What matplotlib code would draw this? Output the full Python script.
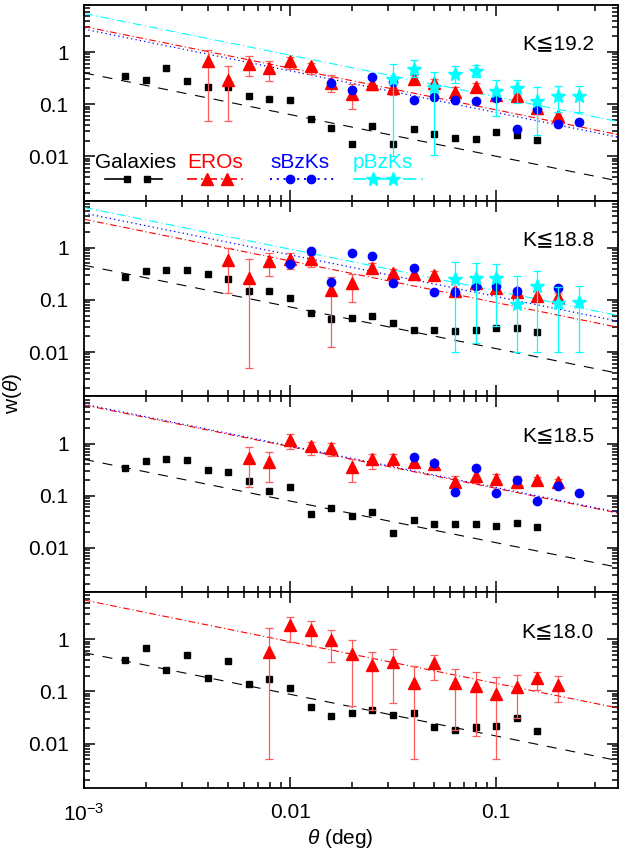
import numpy as np
import matplotlib
matplotlib.use('Agg')
import matplotlib.pyplot as plt
from matplotlib.ticker import FixedLocator, FixedFormatter, LogLocator, NullFormatter

plt.rcParams['font.family'] = ['Liberation Sans', 'DejaVu Sans']
plt.rcParams['mathtext.fontset'] = 'custom'
plt.rcParams['mathtext.rm'] = 'Liberation Sans'
plt.rcParams['mathtext.it'] = 'Liberation Sans:italic'

# ---------------- data ----------------
panel_labels = ['K≦19.2', 'K≦18.8', 'K≦18.5', 'K≦18.0']

theta_bins = [0.00158, 0.002, 0.00251, 0.00316, 0.00398, 0.00501, 0.00631, 0.00794,
              0.01, 0.0126, 0.0158, 0.02, 0.0251, 0.0316, 0.0398, 0.0501, 0.0631,
              0.0794, 0.1, 0.126, 0.158, 0.2, 0.251]

# Galaxies (theta_bins[0:21])
gal_192 = [0.353, 0.296, 0.49, 0.283, 0.21, 0.21, 0.145, 0.127, 0.118, 0.051, 0.0353,
           0.0173, 0.0386, 0.0173, 0.0338, 0.0263, 0.0223, 0.0213, 0.0296, 0.0255, 0.0204]
gal_188 = [0.275, 0.359, 0.37, 0.37, 0.309, 0.248, 0.149, 0.149, 0.111, 0.0552, 0.0429,
           0.0442, 0.0483, 0.0359, 0.027, 0.0259, 0.0248, 0.027, 0.0283, 0.0283, 0.024]
gal_185 = [0.338, 0.469, 0.505, 0.49, 0.309, 0.283, 0.189, 0.121, 0.145, 0.0442, 0.0569,
           0.041, 0.049, 0.0189, 0.0343, 0.0287, 0.0287, 0.0287, 0.0267, 0.03, 0.0251]
gal_180 = [0.408, 0.672, 0.262, 0.508, 0.181, 0.379, 0.137, 0.176, 0.115, 0.0512, 0.0334,
           0.0381, 0.0436, 0.0355, 0.0381, 0.0203, 0.0183, 0.0203, 0.0215, 0.0306, 0.0175]

# EROs: value, upper end, lower end of error bar
ero_192_th = theta_bins[4:22]
ero_192 = [0.67, 0.296, 0.60, 0.49, 0.66, 0.536, 0.255, 0.158, 0.248, 0.204, 0.31, 0.255,
           0.171, 0.213, 0.152, 0.145, 0.085, 0.06]
ero_192_hi = [1.08, 0.536, 0.84, 0.67, 0.80, 0.62, 0.37, 0.24, 0.32, 0.26, 0.36, 0.30,
              0.21, 0.25, 0.19, 0.18, 0.105, 0.072]
ero_192_lo = [0.048, 0.048, 0.343, 0.275, 0.475, 0.386, 0.168, 0.08, 0.184, 0.15, 0.26, 0.21,
              0.14, 0.18, 0.12, 0.11, 0.065, 0.05]

ero_188_th = theta_bins[5:22]
ero_188 = [0.577, 0.263, 0.56, 0.60, 0.60, 0.152, 0.21, 0.416, 0.333, 0.309, 0.305, 0.145,
           0.21, 0.171, 0.141, 0.121, 0.113]
ero_188_hi = [1.0, 0.60, 0.81, 0.78, 0.73, 0.275, 0.309, 0.5, 0.398, 0.37, 0.36, 0.17,
              0.24, 0.2, 0.165, 0.145, 0.135]
ero_188_lo = [0.135, 0.005, 0.283, 0.398, 0.43, 0.0125, 0.093, 0.328, 0.275, 0.26, 0.26, 0.12,
              0.18, 0.145, 0.12, 0.1, 0.095]

ero_185_th = theta_bins[6:22]
ero_185 = [0.536, 0.442, 1.19, 0.9, 0.837, 0.359, 0.497, 0.513, 0.449, 0.41, 0.181, 0.237,
           0.213, 0.181, 0.201, 0.184]
ero_185_hi = [0.875, 0.69, 1.52, 1.09, 1.04, 0.497, 0.62, 0.62, 0.536, 0.475, 0.237, 0.296,
              0.255, 0.24, 0.226, 0.21]
ero_185_lo = [0.145, 0.181, 0.777, 0.60, 0.569, 0.184, 0.328, 0.398, 0.353, 0.343, 0.152, 0.176,
              0.176, 0.141, 0.176, 0.16]

ero_180_th = theta_bins[7:22]
ero_180 = [0.58, 1.88, 1.49, 0.97, 0.531, 0.322, 0.367, 0.148, 0.347, 0.146, 0.129, 0.0908,
           0.124, 0.179, 0.131]
ero_180_hi = [1.67, 2.72, 2.21, 1.53, 0.986, 0.58, 0.662, 0.303, 0.508, 0.274, 0.233, 0.187,
              0.21, 0.24, 0.195]
ero_180_lo = [0.005, 0.90, 0.734, 0.362, 0.0527, 0.0436, 0.0593, 0.005, 0.164, 0.0183, 0.014,
              0.005, 0.0306, 0.107, 0.063]

# sBzKs
sbzk_192_th = theta_bins[10:23]
sbzk_192 = [0.255, 0.184, 0.338, 0.262, 0.121, 0.137, 0.121, 0.113, 0.131, 0.0338, 0.079,
            0.0416, 0.0455]
sbzk_188_th = [0.01, 0.0126, 0.0158, 0.02, 0.0251, 0.0316, 0.0398, 0.0501, 0.0631, 0.0794,
               0.1, 0.126, 0.2]
sbzk_188 = [0.497, 0.875, 0.22, 0.81, 0.69, 0.21, 0.404, 0.141, 0.141, 0.181, 0.184, 0.147, 0.171]
sbzk_185_th = theta_bins[14:23]
sbzk_185 = [0.56, 0.429, 0.119, 0.338, 0.114, 0.198, 0.08, 0.156, 0.111]

# pBzKs
pbzk_192_th = theta_bins[13:23]
pbzk_192 = [0.305, 0.475, 0.213, 0.38, 0.44, 0.176, 0.204, 0.113, 0.145, 0.145]
pbzk_192_hi = [0.60, 0.70, 0.41, 0.536, 0.56, 0.287, 0.296, 0.21, 0.22, 0.22]
pbzk_192_lo = [0.01, 0.333, 0.0105, 0.255, 0.333, 0.058, 0.105, 0.026, 0.071, 0.071]
pbzk_188_th = theta_bins[16:23]
pbzk_188 = [0.255, 0.263, 0.267, 0.0837, 0.181, 0.0862, 0.0902]
pbzk_188_hi = [0.536, 0.51, 0.497, 0.283, 0.353, 0.18, 0.181]
pbzk_188_lo = [0.01, 0.0147, 0.0319, 0.01, 0.01, 0.01, 0.01]

# power-law fits  w = A * theta^(-delta), log10(A) per panel
fit_delta = 0.8
fit_logA_gal = [-2.80, -2.735, -2.703, -2.656]
fit_logA_ero = [-1.91, -1.852, -1.66, -1.646]
fit_logA_sbzk = [-1.96, -1.735, -1.645, None]
fit_logA_pbzk = [-1.66, -1.626, None, None]

# ---------------- figure ----------------
W, H = 623, 863
fig = plt.figure(figsize=(W / 100, H / 100), dpi=100)
left_px, right_px, top_px, bot_px = 84, 618, 5, 788
ph = (bot_px - top_px) / 4.0
xlim = (0.001, 0.39)
ylim = (0.0014, 8.0)

RED, BLUE, CYAN = '#ff0000', '#0000ff', '#00ffff'
ERR_RED = '#ff5c5c'

gal_all = [gal_192, gal_188, gal_185, gal_180]
ero_all = [(ero_192_th, ero_192, ero_192_hi, ero_192_lo),
           (ero_188_th, ero_188, ero_188_hi, ero_188_lo),
           (ero_185_th, ero_185, ero_185_hi, ero_185_lo),
           (ero_180_th, ero_180, ero_180_hi, ero_180_lo)]
sbzk_all = [(sbzk_192_th, sbzk_192), (sbzk_188_th, sbzk_188), (sbzk_185_th, sbzk_185), None]
pbzk_all = [(pbzk_192_th, pbzk_192, pbzk_192_hi, pbzk_192_lo),
            (pbzk_188_th, pbzk_188, pbzk_188_hi, pbzk_188_lo), None, None]

styles = {
    'gal': dict(color='black', lw=0.8, dashes=(9, 8)),
    'ero': dict(color=RED, lw=0.8, dashes=(6, 2.5, 1, 2.5)),
    'sbzk': dict(color=BLUE, lw=0.9, dashes=(1, 2.5)),
    'pbzk': dict(color=CYAN, lw=0.8, dashes=(8, 3, 1, 3)),
}

tfit = np.logspace(np.log10(xlim[0]), np.log10(xlim[1]), 50)

axes = []
for i in range(4):
    y0 = 1 - (top_px + ph * (i + 1)) / H
    ax = fig.add_axes([left_px / W, y0, (right_px - left_px) / W, ph / H])
    axes.append(ax)
    ax.set_xscale('log')
    ax.set_yscale('log')
    ax.set_xlim(*xlim)
    ax.set_ylim(*ylim)

    # fits
    ax.plot(tfit, 10 ** fit_logA_gal[i] * tfit ** (-fit_delta), **styles['gal'])
    ax.plot(tfit, 10 ** fit_logA_ero[i] * tfit ** (-fit_delta), **styles['ero'])
    if fit_logA_sbzk[i] is not None:
        ax.plot(tfit, 10 ** fit_logA_sbzk[i] * tfit ** (-fit_delta), **styles['sbzk'])
    if fit_logA_pbzk[i] is not None:
        ax.plot(tfit, 10 ** fit_logA_pbzk[i] * tfit ** (-fit_delta), **styles['pbzk'])

    # galaxies
    g = gal_all[i]
    ax.plot(theta_bins[:len(g)], g, 's', color='black', ms=5, mec='black', zorder=3)

    # EROs
    th, w, hi, lo = ero_all[i]
    w = np.array(w); hi = np.array(hi); lo = np.array(lo)
    ax.errorbar(th, w, yerr=[w - lo, hi - w], fmt='none', ecolor=ERR_RED, elinewidth=0.9,
                capsize=3, capthick=0.9, zorder=3)
    ax.plot(th, w, '^', color=RED, ms=8.5, mec=RED, zorder=4)

    # sBzKs
    if sbzk_all[i] is not None:
        th, w = sbzk_all[i]
        ax.plot(th, w, 'o', color=BLUE, ms=6, mec=BLUE, zorder=5)

    # pBzKs
    if pbzk_all[i] is not None:
        th, w, hi, lo = pbzk_all[i]
        w = np.array(w); hi = np.array(hi); lo = np.array(lo)
        ax.errorbar(th, w, yerr=[w - lo, hi - w], fmt='none', ecolor=CYAN, elinewidth=0.9,
                    capsize=3, capthick=0.9, zorder=6)
        ax.plot(th, w, '*', color=CYAN, ms=10, mec=CYAN, zorder=7)

    ax.text(0.955, 0.80, panel_labels[i], transform=ax.transAxes, ha='right', va='center',
            fontsize=15, family=['Liberation Sans', 'DejaVu Sans'])

    # ticks
    ax.xaxis.set_major_locator(FixedLocator([0.001, 0.01, 0.1]))
    ax.xaxis.set_minor_locator(LogLocator(base=10, subs=np.arange(2, 10), numticks=20))
    ax.yaxis.set_major_locator(FixedLocator([0.01, 0.1, 1.0]))
    ax.yaxis.set_major_formatter(FixedFormatter(['0.01', '0.1', '1']))
    ax.yaxis.set_minor_locator(LogLocator(base=10, subs=np.arange(2, 10), numticks=20))
    ax.yaxis.set_minor_formatter(NullFormatter())
    ax.xaxis.set_minor_formatter(NullFormatter())
    if i == 3:
        ax.xaxis.set_major_formatter(FixedFormatter([r'$10^{-3}$', '0.01', '0.1']))
    else:
        ax.xaxis.set_major_formatter(NullFormatter())
    ax.tick_params(which='both', direction='in', top=True, right=True, width=1.1)
    ax.tick_params(which='major', length=8, labelsize=15, pad=11)
    ax.tick_params(which='minor', length=4.5)
    for s in ax.spines.values():
        s.set_linewidth(1.3)

# legend in top panel (axes-fraction coordinates)
ax = axes[0]
tr = ax.transAxes
def fx(px):
    return (px - left_px) / (right_px - left_px)
def fy(py):
    return (top_px + ph - py) / ph

ty, ly = fy(163), fy(179)
ax.text(fx(95), ty, 'Galaxies', transform=tr, color='black', fontsize=15, va='center')
ax.text(fx(187), ty, 'EROs', transform=tr, color=RED, fontsize=15, va='center')
ax.text(fx(270), ty, 'sBzKs', transform=tr, color=BLUE, fontsize=15, va='center')
ax.text(fx(353), ty, 'pBzKs', transform=tr, color=CYAN, fontsize=15, va='center')

ax.plot([fx(105), fx(127)], [ly, ly], transform=tr, color='black', lw=1.2)
ax.plot([fx(147), fx(162)], [ly, ly], transform=tr, color='black', lw=1.2)
ax.plot([fx(127), fx(147)], [ly, ly], 's', transform=tr, color='black', ms=5)

ax.plot([fx(187), fx(247)], [ly, ly], transform=tr, color=RED, lw=1.2, dashes=(6, 2.5, 1, 2.5))
ax.plot([fx(207), fx(227)], [ly, ly], '^', transform=tr, color=RED, ms=8.5)

ax.plot([fx(270), fx(338)], [ly, ly], transform=tr, color=BLUE, lw=1.4, dashes=(1, 2.5))
ax.plot([fx(290), fx(311)], [ly, ly], 'o', transform=tr, color=BLUE, ms=6)

ax.plot([fx(353), fx(425)], [ly, ly], transform=tr, color=CYAN, lw=1.2, dashes=(8, 3, 1, 3))
ax.plot([fx(373), fx(393)], [ly, ly], '*', transform=tr, color=CYAN, ms=10)

fig.text(12 / W, 1 - 393 / H, r'w($\theta$)', rotation=90, ha='center', va='center', fontsize=15)
fig.text(340 / W, 1 - 838 / H, r'$\theta$ (deg)', ha='center', va='center', fontsize=15)

fig.savefig('out.png', dpi=100)
